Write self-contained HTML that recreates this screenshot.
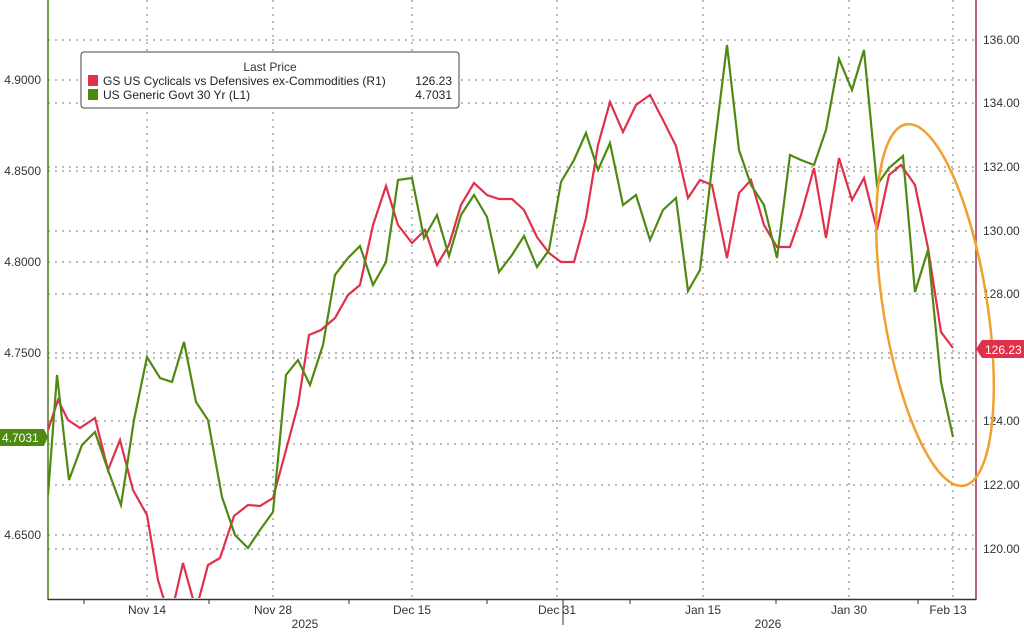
<!DOCTYPE html>
<html><head><style>
body{margin:0;background:#fff;}
svg text{font-family:"Liberation Sans",sans-serif;}
</style></head><body>
<svg width="1024" height="629" viewBox="0 0 1024 629" xmlns="http://www.w3.org/2000/svg">
<defs><clipPath id="c"><rect x="48" y="0" width="928" height="598"/></clipPath></defs>
<rect width="1024" height="629" fill="#fff"/>
<g stroke="#777" stroke-width="1" stroke-dasharray="2,5">
<line x1="48" x2="976" y1="80" y2="80"/><line x1="48" x2="976" y1="171" y2="171"/>
<line x1="48" x2="976" y1="262" y2="262"/><line x1="48" x2="976" y1="353" y2="353"/>
<line x1="48" x2="976" y1="444" y2="444"/><line x1="48" x2="976" y1="535" y2="535"/>
<line x1="48" x2="976" y1="40" y2="40"/><line x1="48" x2="976" y1="103" y2="103"/>
<line x1="48" x2="976" y1="167" y2="167"/><line x1="48" x2="976" y1="231" y2="231"/>
<line x1="48" x2="976" y1="294" y2="294"/><line x1="48" x2="976" y1="358" y2="358"/>
<line x1="48" x2="976" y1="421" y2="421"/><line x1="48" x2="976" y1="485" y2="485"/>
<line x1="48" x2="976" y1="549" y2="549"/>
<line x1="147" x2="147" y1="0" y2="599"/><line x1="273" x2="273" y1="0" y2="599"/>
<line x1="412" x2="412" y1="0" y2="599"/><line x1="557" x2="557" y1="0" y2="599"/>
<line x1="703" x2="703" y1="0" y2="599"/><line x1="849" x2="849" y1="0" y2="599"/>
<line x1="953" x2="953" y1="0" y2="599"/>
</g>
<line x1="48" x2="48" y1="0" y2="600" stroke="#4a7a12" stroke-width="1.5"/>
<line x1="976" x2="976" y1="0" y2="600" stroke="#a0304a" stroke-width="1.5"/>
<g stroke="#333"><line x1="84" x2="84" y1="599" y2="604"/><line x1="209" x2="209" y1="599" y2="604"/><line x1="349" x2="349" y1="599" y2="604"/><line x1="487" x2="487" y1="599" y2="604"/><line x1="563" x2="563" y1="599" y2="625"/><line x1="630" x2="630" y1="599" y2="604"/><line x1="776" x2="776" y1="599" y2="604"/><line x1="918" x2="918" y1="599" y2="604"/></g>
<g font-size="12" fill="#333" text-anchor="middle">
<text x="147" y="614">Nov 14</text><text x="273" y="614">Nov 28</text><text x="412" y="614">Dec 15</text>
<text x="557" y="614">Dec 31</text><text x="703" y="614">Jan 15</text><text x="849" y="614">Jan 30</text>
<text x="948" y="614">Feb 13</text><text x="305" y="628">2025</text><text x="768" y="628">2026</text>
</g>
<g font-size="12" fill="#333" text-anchor="end">
<text x="41" y="84">4.9000</text><text x="41" y="175">4.8500</text><text x="41" y="266">4.8000</text>
<text x="41" y="357">4.7500</text><text x="41" y="539">4.6500</text>
</g>
<g font-size="12" fill="#333">
<text x="983" y="44">136.00</text><text x="983" y="107">134.00</text><text x="983" y="171">132.00</text>
<text x="983" y="235">130.00</text><text x="983" y="298">128.00</text>
<text x="983" y="425">124.00</text><text x="983" y="489">122.00</text><text x="983" y="553">120.00</text>
</g>
<g clip-path="url(#c)">
<polyline fill="none" stroke="#e0304a" stroke-width="2.2" points="48,430 58,400 68,420 80,428 95,418 108,470 120,440 133,490 147,515 158,580 170,620 183,563 196,610 208,565 220,558 234,516 248,505 260,506 273,498 286,450 298,405 309,335 321,330 335,318 348,295 360,285 373,225 386,186 398,225 412,243 425,230 437,265 449,245 461,205 474,183 487,195 499,199 512,199 524,210 537,237 549,253 561,262 574,262 586,218 598,145 610,102 623,132 636,105 650,95 663,120 676,146 688,198 700,180 712,185 727,258 739,193 751,180 764,225 777,247 790,247 801,215 814,168 826,238 839,158 852,200 864,178 877,230 889,175 901,165 915,185 928,248 941,332 953,348"/>
<polyline fill="none" stroke="#4f8a10" stroke-width="2.2" points="48,495 57,375 69,480 82,445 95,432 108,470 121,505 134,420 147,357 160,378 172,382 184,342 196,402 208,420 222,497 235,535 248,548 260,530 273,512 286,375 298,360 310,385 323,345 335,275 348,258 360,246 373,285 386,262 398,180 412,178 424,238 437,215 449,256 461,215 474,195 487,217 499,272 512,255 524,236 537,267 549,250 561,182 574,160 586,133 598,170 610,143 623,205 636,195 650,240 663,210 676,198 688,291 700,270 714,150 727,45 739,150 751,185 764,205 777,258 790,155 801,160 814,165 826,130 839,59 852,90 864,50 877,185 889,168 903,156 915,292 928,250 941,382 953,437"/>
</g>
<line x1="48" x2="976" y1="599.5" y2="599.5" stroke="#333" stroke-width="1.5"/>
<ellipse cx="935" cy="305" rx="52" ry="183" transform="rotate(-9 935 305)" fill="none" stroke="#f0a030" stroke-width="2.5"/>
<rect x="0" y="429" width="44" height="17" fill="#4f8a10"/>
<polygon points="44,429 48,437 44,446" fill="#4f8a10"/>
<text x="2" y="442" font-size="12" fill="#fff">4.7031</text>
<polygon points="976,349 982,340 1024,340 1024,358 982,358" fill="#e0304a"/>
<text x="985" y="354" font-size="12" fill="#fff">126.23</text>
<rect x="81" y="52" width="378" height="56" rx="3" fill="#fff" stroke="#444"/>
<text x="270" y="71" font-size="12" fill="#333" text-anchor="middle">Last Price</text>
<rect x="88" y="75" width="10" height="11" fill="#e0304a"/>
<rect x="88" y="89" width="10" height="11" fill="#4f8a10"/>
<text x="103" y="85" font-size="12" fill="#222">GS US Cyclicals vs Defensives ex-Commodities  (R1)</text>
<text x="452" y="85" font-size="12" fill="#222" text-anchor="end">126.23</text>
<text x="103" y="99" font-size="12" fill="#222">US Generic Govt 30 Yr  (L1)</text>
<text x="452" y="99" font-size="12" fill="#222" text-anchor="end">4.7031</text>
</svg>
</body></html>
